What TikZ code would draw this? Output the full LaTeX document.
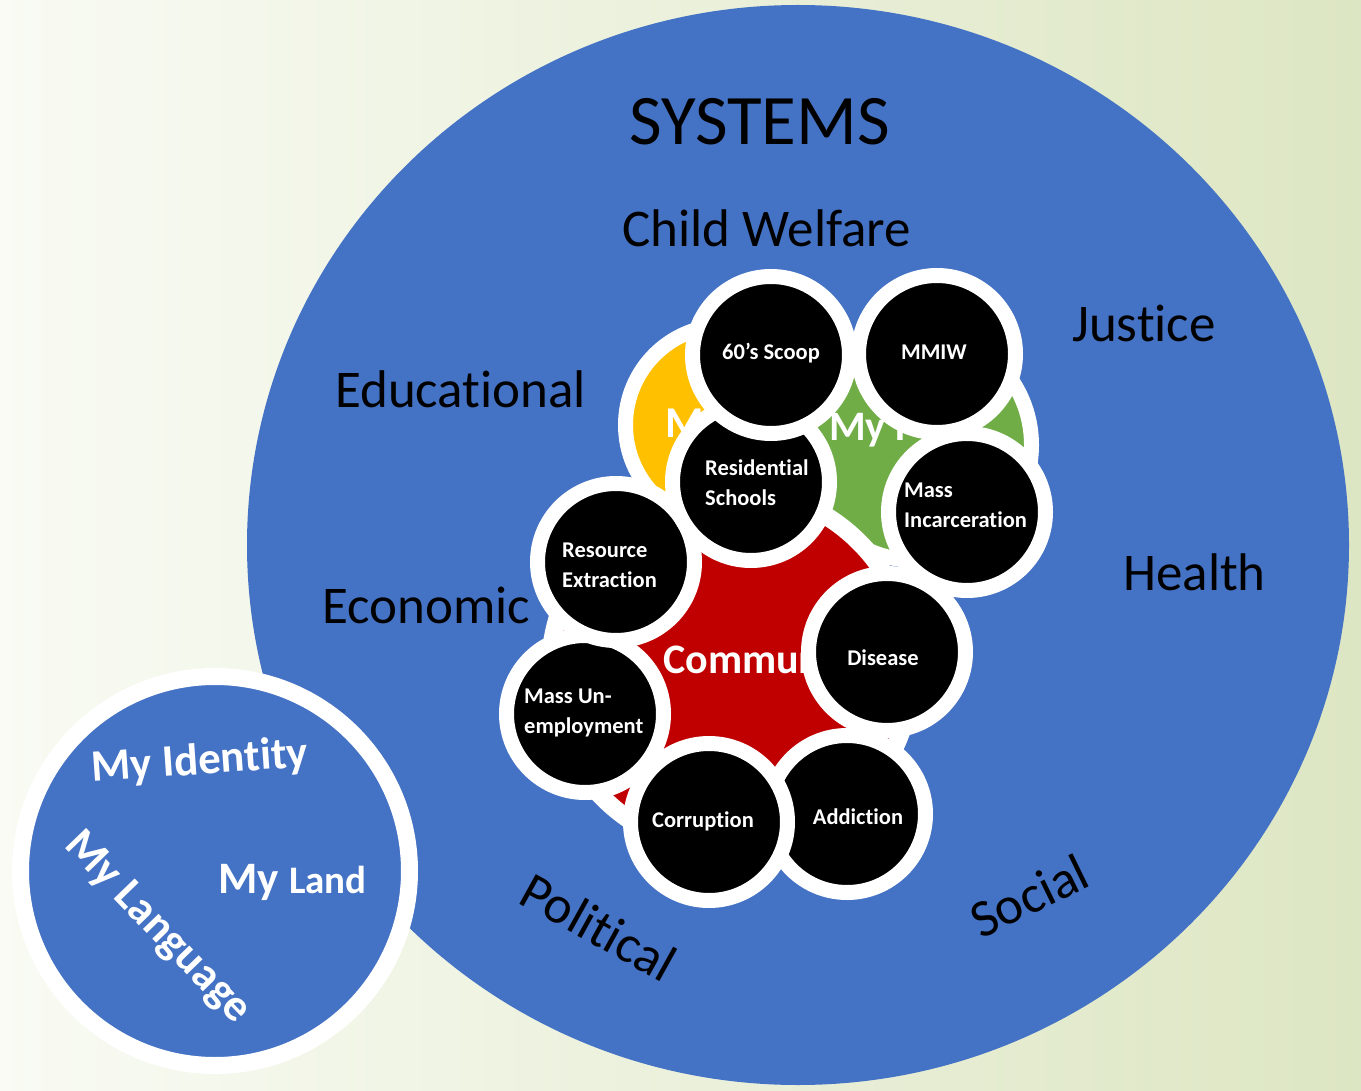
\documentclass[tikz,border=0pt]{standalone}
\usepackage{fontspec}
\setmainfont{Carlito}[Ligatures=NoCommon]
\usetikzlibrary{shapes.geometric}
\definecolor{sysblue}{HTML}{4472C4}
\definecolor{ygold}{HTML}{FFC000}
\definecolor{ggreen}{HTML}{70AD47}
\definecolor{rred}{HTML}{C00000}
\definecolor{bgL}{HTML}{F9FBF4}
\definecolor{bgR}{HTML}{DDE6C3}
\begin{document}
\begin{tikzpicture}[x=1pt,y=-1pt,
  ring/.style={circle, draw=white, inner sep=0pt, outer sep=0pt},
  issue/.style={ring, fill=black, line width=15pt, minimum size=157pt},
  blob/.style={ring, line width=15pt},
  syslbl/.style={font=\fontsize{53}{60}\selectfont, text=black, inner sep=0pt},
  isslbl/.style={font=\bfseries\fontsize{22.5}{30}\selectfont, text=white, inner sep=0pt, align=left},
  bloblbl/.style={font=\bfseries\fontsize{42}{50}\selectfont, text=white, inner sep=0pt},
  melbl/.style={font=\bfseries\fontsize{45}{50}\selectfont, text=white, inner sep=0pt}]
% background
\useasboundingbox (0,0) rectangle (1361,1091);
\shade[left color=bgL, right color=bgR] (0,0) rectangle (1361,1091);
% big systems circle
\node[ellipse, fill=sysblue, inner sep=0pt, minimum width=1102pt, minimum height=1080pt] (sys) at (798,545) {};
\node[syslbl, font=\fontsize{71}{80}\selectfont, anchor=base west] (systems) at (629,145) {SYSTEMS};
\node[syslbl, anchor=base west] (child) at (622,247) {Child Welfare};
\node[syslbl, anchor=base west] (educ) at (335,408) {Educational};
\node[syslbl, anchor=base west] (econ) at (322,623) {Economic};
\node[syslbl, anchor=base west] (just) at (1072,342) {Justice};
\node[syslbl, anchor=base west] (health) at (1123,590) {Health};
\node[syslbl, rotate=-29] (polit) at (599,927) {Political};
\node[syslbl, rotate=26] (social) at (1029,896) {Social};
% small circle
\node[ring, fill=sysblue, line width=17pt, minimum size=389pt] (me) at (215,871) {};
\node[melbl, rotate=4] (ident) at (200,762) {My Identity};
\node[melbl, anchor=base west] (land) at (218,893) {My {\fontsize{39}{45}\selectfont Land}};
\node[melbl, rotate=-46] (lang) at (157,928) {My Language};
% coloured circles
\node[blob, fill=ygold, minimum size=199pt] (yel) at (725,425) {};
\node[blob, fill=ggreen, minimum size=231pt] (grn) at (916,445) {};
\node[blob, fill=rred, line width=18pt, minimum size=362pt] (red) at (731,670) {};
\node[bloblbl, font=\bfseries\fontsize{44}{50}\selectfont, anchor=base west] (yeltxt) at (665,437) {M};
\node[bloblbl, anchor=base west] (grntxt) at (829,440) {My F};
\node[bloblbl, anchor=base west] (redtxt) at (663,673) {Community};
% issue circles
\node[issue] (unemp) at (585,714) {};
\node[issue] (resource) at (616,562) {};
\node[issue] (resid) at (751,482) {};
\node[issue] (scoop) at (771,355) {};
\node[issue] (mmiw) at (937,354) {};
\node[issue] (incarc) at (967,512) {};
\node[issue] (disease) at (887,652) {};
\node[issue] (addict) at (847,814) {};
\node[issue] (corrupt) at (709,822) {};
% issue labels
\node[isslbl, anchor=base] (scooptxt) at (771,360) {60’s Scoop};
\node[isslbl, anchor=base] (mmiwtxt) at (934,360) {MMIW};
\node[isslbl, anchor=west] (residtxt) at (705,483) {Residential\\Schools};
\node[isslbl, anchor=west] (incarctxt) at (904,505) {Mass\\Incarceration};
\node[isslbl, anchor=west] (resourcetxt) at (562,565) {Resource\\Extraction};
\node[isslbl, anchor=west] (unemptxt) at (524,713) {Mass Un-\\employment};
\node[isslbl, anchor=base] (diseasetxt) at (883,665) {Disease};
\node[isslbl, anchor=base] (corrupttxt) at (703,827) {Corruption};
\node[isslbl, anchor=base] (addicttxt) at (858,824) {Addiction};
\end{tikzpicture}
\end{document}
